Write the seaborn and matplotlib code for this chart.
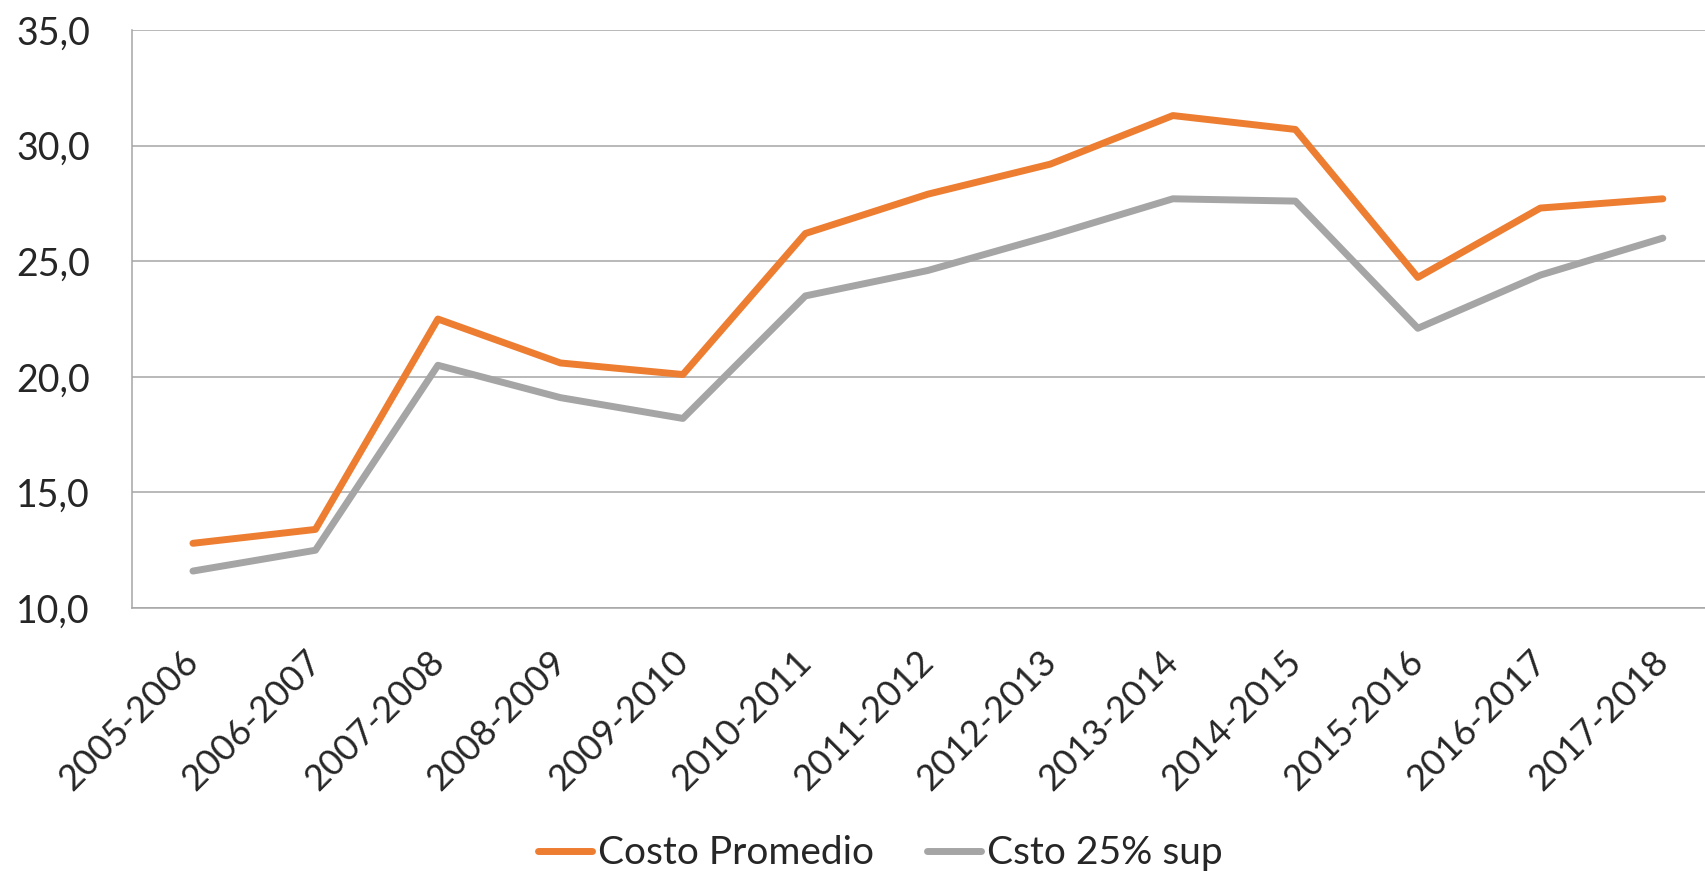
import numpy as np
import pandas as pd
import matplotlib
matplotlib.use("Agg")
import matplotlib.pyplot as plt
import matplotlib.transforms as mtransforms
import seaborn as sns

# Dati
periodi = ["2005-2006", "2006-2007", "2007-2008", "2008-2009", "2009-2010",
           "2010-2011", "2011-2012", "2012-2013", "2013-2014", "2014-2015",
           "2015-2016", "2016-2017", "2017-2018"]
costo_promedio = [12.8, 13.4, 22.5, 20.6, 20.1, 26.2, 27.9, 29.2, 31.3, 30.7, 24.3, 27.3, 27.7]
costo_25_sup = [11.6, 12.5, 20.5, 19.1, 18.2, 23.5, 24.6, 26.1, 27.7, 27.6, 22.1, 24.4, 26.0]
serie = ["Costo Promedio", "Csto 25% sup"]
colori = ["#ED7D31", "#A5A5A5"]

df = pd.DataFrame({
    "idx": list(range(len(periodi))) * 2,
    "valore": costo_promedio + costo_25_sup,
    "serie": [serie[0]] * len(periodi) + [serie[1]] * len(periodi),
})

sns.set_style("white")
plt.rcParams["font.family"] = ["Lato", "DejaVu Sans"]

fig = plt.figure(figsize=(17.06, 8.75), dpi=100)
ax = fig.add_axes([0.0772, 0.3051, 0.9334, 0.6606])

sns.lineplot(data=df, x="idx", y="valore", hue="serie", palette=colori,
             linewidth=5, ax=ax, sort=False, solid_capstyle="round")

ax.set_xlim(-0.5, len(periodi) - 0.5)
ax.set_ylim(10, 35)
ax.set_xlabel("")
ax.set_ylabel("")

# griglia orizzontale
ax.set_yticks(np.arange(10, 36, 5))
ax.set_yticklabels([f"{v:.1f}".replace(".", ",") for v in np.arange(10, 36, 5)])
ax.yaxis.grid(True, color="#A6A6A6", linewidth=1.1)
ax.set_axisbelow(True)

# tacche ai bordi delle categorie, etichette al centro
ax.set_xticks(np.arange(-0.5, len(periodi), 1.0))
ax.set_xticklabels([])
ax.set_xticks(np.arange(len(periodi)), minor=True)
ax.set_xticklabels(periodi, minor=True, rotation=45, ha="right", va="baseline",
                   rotation_mode="anchor")
ax.tick_params(axis="x", which="major", length=10, width=1.1, color="#A6A6A6")
ax.tick_params(axis="x", which="minor", length=0, pad=40, labelsize=26)
ax.tick_params(axis="y", length=10, width=1.1, color="#A6A6A6", pad=20, labelsize=27)

# piccolo spostamento a destra delle etichette
offset = mtransforms.ScaledTranslation(0.08, 0, fig.dpi_scale_trans)
for lab in ax.get_xticklabels(minor=True):
    lab.set_transform(lab.get_transform() + offset)

for s in ["top", "right"]:
    ax.spines[s].set_visible(False)
for s in ["left", "bottom"]:
    ax.spines[s].set_color("#A6A6A6")
    ax.spines[s].set_linewidth(1.1)

handles, labels = ax.get_legend_handles_labels()
ax.legend(handles, labels, loc="center", bbox_to_anchor=(0.516, 0.025),
          bbox_transform=fig.transFigure, ncol=2, frameon=False, fontsize=28,
          handlelength=1.4, handletextpad=0.15, columnspacing=1.35)

plt.savefig("out.png", dpi=100)
